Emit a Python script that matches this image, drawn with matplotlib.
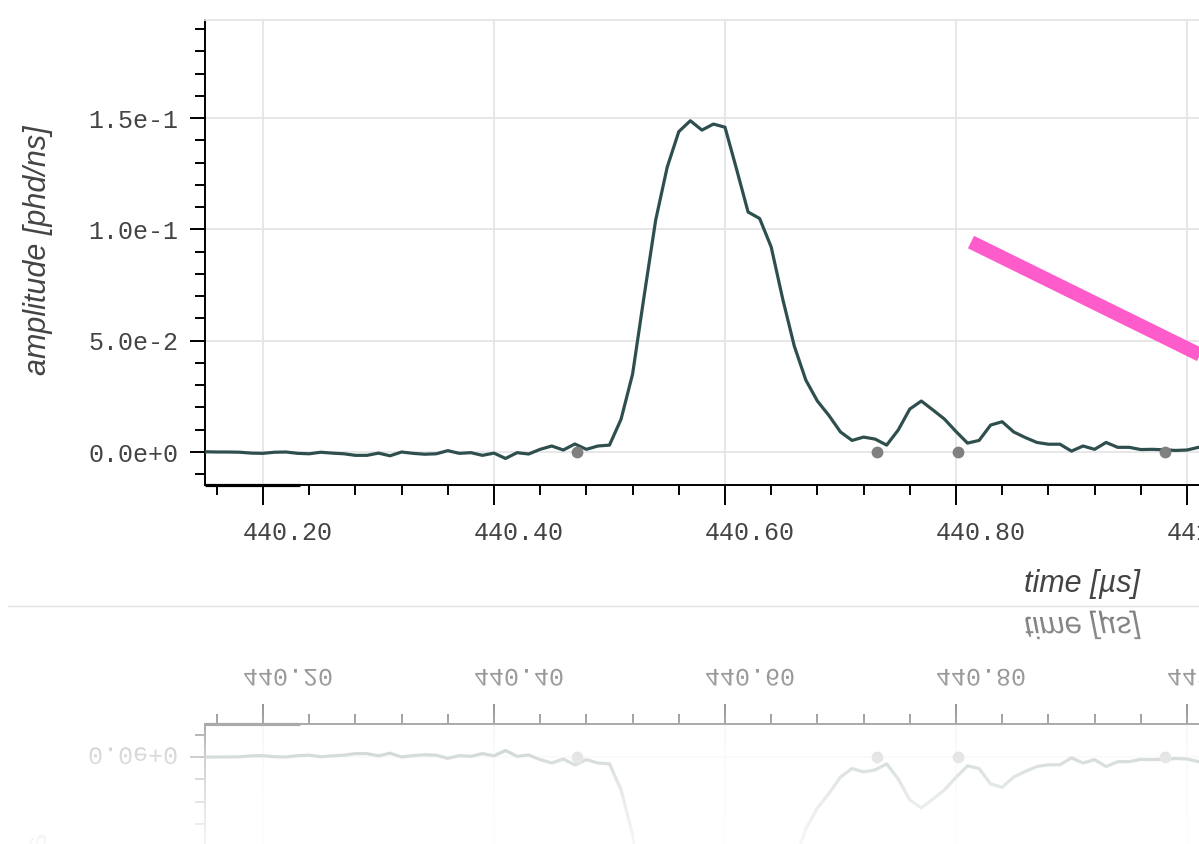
import numpy as np
import matplotlib
matplotlib.use("Agg")
import matplotlib.pyplot as plt
from matplotlib.ticker import MultipleLocator
from matplotlib.transforms import ScaledTranslation, Affine2D
from matplotlib.textpath import TextPath
from matplotlib.patches import PathPatch
from matplotlib.lines import Line2D

# waveform, sampled every 10 ns
time_us = np.round(np.arange(440.15, 441.015, 0.01), 2)
amplitude = [
    0.0001, 0.0, 0.0, -0.0001, -0.0005, -0.0006, -0.0001, 0.0, -0.0006, -0.0008,
    -0.0001, -0.0005, -0.0008, -0.0015, -0.0015, -0.0005, -0.0017, 0.0, -0.0006, -0.0010,
    -0.0008, 0.0006, -0.0006, -0.0003, -0.0015, -0.0005, -0.0029, -0.0003, -0.0009, 0.0012,
    0.0027, 0.0009, 0.0036, 0.0012, 0.0027, 0.0031, 0.0147, 0.0350, 0.0701, 0.1042,
    0.1280, 0.1439, 0.1488, 0.1446, 0.1473, 0.1459, 0.1271, 0.1078, 0.1049, 0.0921,
    0.0687, 0.0476, 0.0323, 0.0229, 0.0164, 0.0090, 0.0052, 0.0067, 0.0058, 0.0031,
    0.0099, 0.0193, 0.0229, 0.0189, 0.0148, 0.0092, 0.0040, 0.0052, 0.0121, 0.0136,
    0.0090, 0.0065, 0.0043, 0.0035, 0.0035, 0.0004, 0.0027, 0.0012, 0.0043, 0.0021,
    0.0021, 0.0011, 0.0012, 0.0010, 0.0007, 0.0009, 0.0021,
]

# grey markers on the baseline
dot_t = [440.472, 440.732, 440.802, 440.981]
dot_v = [0.0, 0.0, 0.0, 0.0]

# pink annotation stroke
arrow_t = [440.813, 441.10]
arrow_v = [0.0943, 0.0210]

x_ticks = [440.2, 440.4, 440.6, 440.8, 441.0]
x_tick_labels = ["440.20", "440.40", "440.60", "440.80", "441.00"]
y_ticks = [0.0, 0.05, 0.10, 0.15]
y_tick_labels = ["0.0e+0", "5.0e-2", "1.0e-1", "1.5e-1"]

x_lo, x_hi = 440.1498, 441.0104
y_lo, y_hi = -0.01482, 0.19405

W, H = 1199, 844
MIRROR = 604.5  # px from top

plt.rcParams["font.family"] = "Liberation Mono"

fig = plt.figure(figsize=(W / 100, H / 100), dpi=100)


def fig_box(left, top, right, bottom):
    return [left / W, 1 - bottom / H, (right - left) / W, (bottom - top) / H]


def draw_panel(ax, flipped):
    ax.plot(time_us, amplitude, color="#2f4f4f", lw=2.3, zorder=3)
    ax.plot(dot_t, dot_v, "o", color="#808080", ms=8.5, mew=0, zorder=4)
    ax.set_xlim(x_lo, x_hi)
    ax.set_ylim((y_hi, y_lo) if flipped else (y_lo, y_hi))
    ax.set_xticks(x_ticks, labels=x_tick_labels)
    ax.set_yticks(y_ticks, labels=y_tick_labels)
    ax.xaxis.set_minor_locator(MultipleLocator(0.04))
    ax.yaxis.set_minor_locator(MultipleLocator(0.01))
    ax.grid(True, which="major", color="#e5e5e5", lw=1.3)
    ax.set_axisbelow(True)
    ax.patch.set_visible(False)

    edge, far = ("top", "bottom") if flipped else ("bottom", "top")
    for s in ("left", edge):
        ax.spines[s].set_color("black")
        ax.spines[s].set_linewidth(1.4)
    ax.spines[far].set_color("#e5e5e5")
    ax.spines[far].set_linewidth(1.3)
    ax.spines["right"].set_visible(False)
    if flipped:
        ax.xaxis.tick_top()

    ax.tick_params(which="both", direction="out", color="black", width=1.4,
                   labelsize=18, labelcolor="#444444")
    ax.tick_params(axis="x", which="major", length=14.4, pad=11.5)
    ax.tick_params(axis="x", which="minor", length=7.2)
    ax.tick_params(axis="y", which="major", length=10.8, pad=8.6)
    ax.tick_params(axis="y", which="minor", length=7.2)
    if flipped:
        ax.tick_params(labelleft=False, labeltop=False, labelbottom=False)

    # the axis line is drawn a bit heavier near the origin
    yy = 1 if flipped else 0
    ax.plot([0, 0.096], [yy, yy], transform=ax.transAxes, color="black",
            lw=2.3, solid_capstyle="butt", clip_on=False, zorder=5)


# main chart
ax = fig.add_axes(fig_box(205, 20, 1199, 485))
draw_panel(ax, flipped=False)
ax.plot(arrow_t, arrow_v, color="#ff5ccb", lw=10, solid_capstyle="butt", zorder=6)

shift = ScaledTranslation(0.25, 0, fig.dpi_scale_trans)
for lab in ax.get_xticklabels():
    lab.set_transform(lab.get_transform() + shift)

ylab = fig.text(38 / W, 1 - 250 / H, "amplitude [phd/ns]", rotation=90,
                ha="center", va="center", fontsize=22, style="italic",
                family="Liberation Sans", color="#444444")
xlab = fig.text(1140 / W, 1 - 592 / H, "time [µs]", ha="right", va="baseline",
                fontsize=22, style="italic", family="Liberation Sans",
                color="#444444")

fig.add_artist(Line2D([8 / W, 1], [1 - 606 / H] * 2, transform=fig.transFigure,
                      color="#e2e2e2", lw=1))

# reflection below the chart
ax2 = fig.add_axes(fig_box(205, 2 * MIRROR - 485, 1199, 2 * MIRROR - 20))
draw_panel(ax2, flipped=True)

# mirrored copies of the texts
fig.canvas.draw()
renderer = fig.canvas.get_renderer()
ym = H - MIRROR
texts = list(ax.get_xticklabels()) + list(ax.get_yticklabels()) + [xlab, ylab]
for t in texts:
    s = t.get_text()
    if not s or not t.get_visible():
        continue
    bb = t.get_window_extent(renderer)
    fp = t.get_fontproperties()
    _, _, d_lp = renderer.get_text_width_height_descent("lp", fp, ismath=False)
    _, _, d_s = renderer.get_text_width_height_descent(s, fp, ismath=False)
    d = max(d_lp, d_s)
    rot = t.get_rotation()
    if abs(rot - 90) < 1:
        ox, oy = bb.x1 - d, bb.y0
    else:
        ox, oy = bb.x0, bb.y0 + d
    size_px = fp.get_size_in_points() * fig.dpi / 72
    path = TextPath((0, 0), s, size=size_px, prop=fp)
    tr = Affine2D().rotate_deg(rot).translate(ox, oy).scale(1, -1).translate(0, 2 * ym)
    fig.add_artist(PathPatch(path, transform=tr, fc=t.get_color(), ec="none", zorder=2))

# fade the reflection out
top_px = 607
ov = fig.add_axes([0, 0, 1, (H - top_px) / H], zorder=10)
ov.axis("off")
rows = np.linspace(top_px, H, 240)
fade = np.interp(rows, [607, 625, 677, 724, 757, 800, 844],
                 [0.30, 0.36, 0.46, 0.67, 0.81, 0.90, 0.96])
img = np.ones((len(rows), 1, 4))
img[:, 0, 3] = fade
ov.imshow(img, aspect="auto", extent=(0, 1, 0, 1), interpolation="bilinear")
ov.set_xlim(0, 1)
ov.set_ylim(0, 1)

fig.savefig("out.png", dpi=100)
